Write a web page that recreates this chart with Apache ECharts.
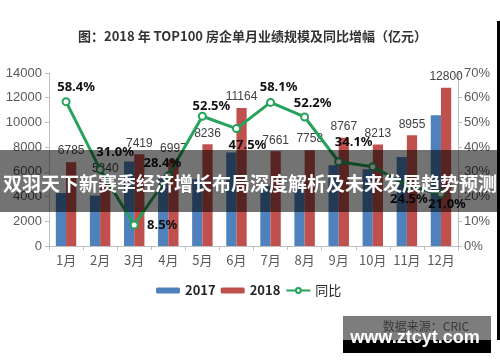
<!DOCTYPE html>
<html>
<head>
<meta charset="utf-8">
<script src="https://cdn.jsdelivr.net/npm/echarts@6/dist/echarts.min.js"></script>
<style>
html,body{margin:0;padding:0;background:#fff;}
#chart{width:500px;height:362px;}
</style>
</head>
<body>
<div id="chart"></div>
<script>
// ---- data ----
const months = ['1月','2月','3月','4月','5月','6月','7月','8月','9月','10月','11月','12月'];
const sales2017 = [4283, 4080, 6838, 5449, 5401, 7569, 4846, 5097, 6538, 6217, 7193, 10579];
const sales2018 = [6785, 5340, 7419, 6997, 8236, 11164, 7661, 7758, 8767, 8213, 8955, 12800];
const yoyGrowth = [58.4, 31.0, 8.5, 28.4, 52.5, 47.5, 58.1, 52.2, 34.1, 32.1, 24.5, 21.0];
const yoyLabelShown = [true, true, true, true, true, true, true, true, true, false, true, true];
const leftAxisMax = 14000, leftAxisStep = 2000;
const rightAxisMax = 70, rightAxisStep = 10;
const seriesNames = ['2017', '2018', '同比'];
const titleText = '图：2018 年 TOP100 房企单月业绩规模及同比增幅（亿元）';
const bannerText = '双羽天下新赛季经济增长布局深度解析及未来发展趋势预测';
const sourceText = '数据来源：CRIC';
const siteText = 'www.ztcyt.com';

// ---- label placement (style, not data) ----
const yoyLabelOffset = [[10,-14.5],[15,-17],[28,0],[-6,-13],[9,-10],[11,17],[8,-15],[8,-14],[15,-19],[0,0],[2,14],[6,10]];

const chart = echarts.init(document.getElementById('chart'), null, {renderer: 'canvas'});
const axisGray = '#bfbfbf';
const labelGray = '#595959';
const cjk = '"Noto Sans CJK SC", "Noto Sans", sans-serif';

const lineData = yoyGrowth.map((v, i) => ({
  value: v,
  label: {show: yoyLabelShown[i], position: 'inside', offset: yoyLabelOffset[i]}
}));

chart.setOption({
  backgroundColor: '#ffffff',
  animation: false,
  title: {
    text: titleText,
    left: 73, top: 25,
    textStyle: {fontSize: 13, fontWeight: 'bold', color: '#333', fontFamily: cjk}
  },
  legend: {
    left: 151, top: 279,
    itemWidth: 24, itemHeight: 6, itemGap: 5,
    textStyle: {fontSize: 13, fontWeight: 'bold', color: '#262626', fontFamily: cjk},
    data: [
      {name: seriesNames[0]},
      {name: seriesNames[1]},
      {name: seriesNames[2], textStyle: {fontWeight: 'normal'}}
    ]
  },
  grid: {left: 49, right: 42, top: 73, bottom: 116},
  xAxis: {
    type: 'category',
    data: months,
    axisLine: {lineStyle: {color: axisGray}},
    axisTick: {show: true, length: 4, lineStyle: {color: axisGray}},
    axisLabel: {color: labelGray, fontSize: 13, margin: 8, interval: 0, fontFamily: cjk}
  },
  yAxis: [
    {
      type: 'value', min: 0, max: leftAxisMax, interval: leftAxisStep,
      axisLine: {show: true, lineStyle: {color: axisGray}},
      axisTick: {show: true, length: 4, lineStyle: {color: axisGray}},
      splitLine: {show: false},
      axisLabel: {color: labelGray, fontSize: 13, margin: 7, formatter: (v) => String(v),
                  fontFamily: '"Liberation Sans", sans-serif'}
    },
    {
      type: 'value', min: 0, max: rightAxisMax, interval: rightAxisStep,
      axisLine: {show: true, lineStyle: {color: axisGray}},
      axisTick: {show: true, length: 4, lineStyle: {color: axisGray}},
      splitLine: {show: false},
      axisLabel: {color: labelGray, fontSize: 13, margin: 6, formatter: (v) => v + '%',
                  fontFamily: '"Liberation Sans", sans-serif'}
    }
  ],
  series: [
    {
      name: seriesNames[0], type: 'bar', data: sales2017,
      itemStyle: {color: '#4f81bd'},
      barGap: '0%', barCategoryGap: '40%'
    },
    {
      name: seriesNames[1], type: 'bar', data: sales2018,
      itemStyle: {color: '#c0504d'},
      barGap: '0%', barCategoryGap: '40%',
      label: {show: true, position: 'top', distance: 5, color: '#404040', fontSize: 12,
              fontFamily: '"Liberation Sans", sans-serif'}
    },
    {
      name: seriesNames[2], type: 'line', yAxisIndex: 1, data: lineData,
      color: '#26a35a',
      lineStyle: {width: 3, color: '#26a35a'},
      symbol: 'emptyCircle', symbolSize: 7,
      itemStyle: {color: '#26a35a', borderWidth: 2},
      z: 3,
      label: {color: '#111', fontSize: 13, fontWeight: 'bold', fontFamily: '"Noto Sans", sans-serif',
              formatter: (p) => p.value.toFixed(1) + '%'}
    }
  ],
  graphic: [
    {type: 'rect', z: 100, shape: {x: 0, y: 150, width: 500, height: 62},
     style: {fill: 'rgba(0,0,0,0.55)'}},
    {type: 'text', z: 101, x: 250, y: 184,
     style: {text: bannerText, fill: '#ffffff', fontSize: 19, fontWeight: 'bold',
             fontFamily: 'Noto Sans CJK SC', align: 'center', verticalAlign: 'middle'}},
    {type: 'rect', z: 100, shape: {x: 343, y: 316, width: 148, height: 24},
     style: {fill: '#7d7d7d'}},
    {type: 'rect', z: 100, shape: {x: 343, y: 340, width: 148, height: 13},
     style: {fill: '#000000'}},
    {type: 'text', z: 101, x: 426, y: 326,
     style: {text: sourceText, fill: '#3a3a3a', fontSize: 12, fontFamily: 'Noto Sans CJK SC',
             align: 'center', verticalAlign: 'middle'}},
    {type: 'text', z: 101, x: 415, y: 338.5,
     style: {text: siteText, fill: '#ffffff', fontSize: 18, fontWeight: 'bold',
             fontFamily: 'Liberation Sans', align: 'center', verticalAlign: 'middle'}},
    {type: 'rect', z: 100, shape: {x: 497, y: 21, width: 3, height: 319},
     style: {fill: '#000000'}}
  ]
});
</script>
</body>
</html>
